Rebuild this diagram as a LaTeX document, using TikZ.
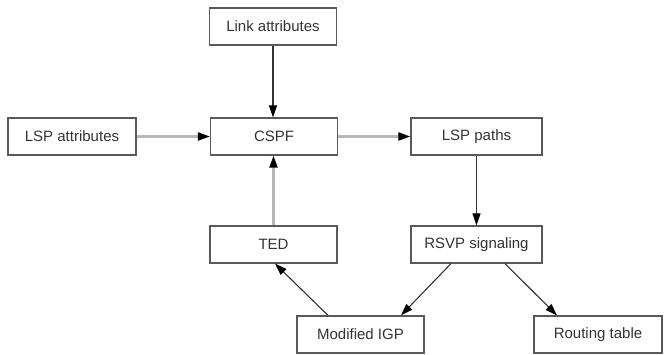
\documentclass[tikz,border=0pt]{standalone}
\usepackage{fontspec}
\setmainfont{Liberation Sans}
\usetikzlibrary{arrows.meta}
\definecolor{boxgray}{gray}{0.35}
\definecolor{linegray}{gray}{0.72}
\begin{document}
\begin{tikzpicture}[x=1pt,y=1pt,
  box/.style={draw=boxgray,line width=1.2pt,minimum width=127pt,minimum height=37pt,inner sep=0pt,
    font=\fontsize{15}{17}\selectfont,text=black!80},
  tipb/.style={-{Triangle[length=12pt,width=8pt,color=black]}},
  dark/.style={tipb,draw=black!80,line width=1.1pt},
  light/.style={tipb,draw=linegray,line width=2.2pt}]
\useasboundingbox (0,0) rectangle (672,354);
\node[box] (link) at (273,327.5) {Link attributes};
\node[box,minimum width=128pt] (lspa) at (72,217.5) {LSP attributes};
\node[box] (cspf) at (274,217.5) {CSPF};
\node[box,minimum width=131pt] (lspp) at (476.5,217.5) {LSP paths};
\node[box] (ted) at (273.5,109.5) {TED};
\node[box,minimum width=131pt] (rsvp) at (476.5,109.5) {RSVP signaling};
\node[box] (igp) at (360.5,19.5) {Modified IGP};
\node[box,minimum width=128pt] (rt) at (598,19.5) {Routing table};
\draw[dark] (link.south) -- (cspf.north -| link.south);
\draw[light] (lspa.east) -- (cspf.west);
\draw[light] (cspf.east) -- (lspp.west);
\draw[light] (ted.north) -- (cspf.south -| ted.north);
\draw[dark] (lspp.south) -- (rsvp.north);
\draw[dark] ([xshift=-25.5pt]rsvp.south) -- ([xshift=40.5pt]igp.north);
\draw[dark] ([xshift=28.5pt]rsvp.south) -- ([xshift=-41pt]rt.north);
\draw[dark] ([xshift=-32.5pt]igp.north) -- ([xshift=1.5pt]ted.south);
\end{tikzpicture}
\end{document}
